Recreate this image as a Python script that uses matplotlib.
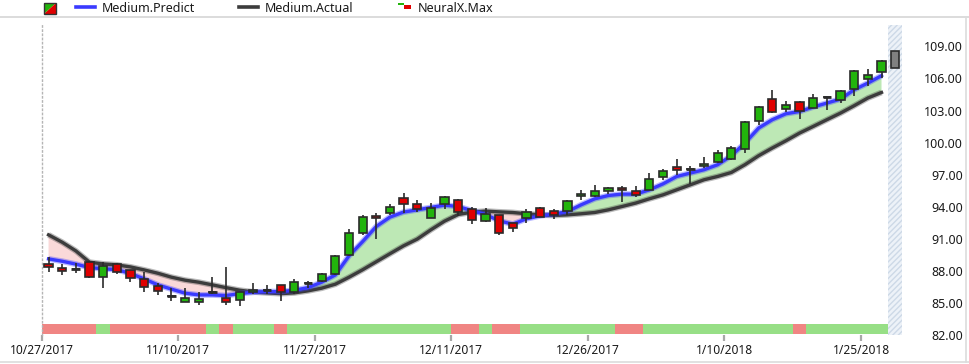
import numpy as np
import matplotlib.pyplot as plt
from matplotlib.patches import Rectangle, Polygon
from matplotlib.lines import Line2D

plt.rcParams['font.family'] = ['Noto Sans', 'DejaVu Sans']

# Candles (one per trading day, 10/27/2017 .. 1/26/2018)
opens = [88.63, 88.28, 88.18, 88.84, 87.41, 88.63, 88.06, 87.22, 86.62, 85.68,
         85.07, 85.07, 86.06, 85.44, 85.25, 86.00, 86.25, 86.66, 86.00, 86.88,
         87.03, 87.69, 89.49, 91.53, 93.12, 93.40, 94.80, 94.24, 92.93, 94.24,
         94.62, 93.80, 92.62, 93.24, 92.46, 92.93, 93.87, 93.59, 93.59, 94.96,
         94.99, 95.46, 95.74, 95.46, 95.55, 96.77, 97.71, 97.55, 97.80, 98.18,
         98.46, 99.39, 102.01, 104.07, 103.14, 103.79, 103.23, 104.22, 103.98, 105.01,
         105.95, 106.60]
highs = [89.28, 88.63, 88.75, 88.88, 88.84, 88.75, 88.10, 87.90, 86.85, 86.38,
         86.38, 86.00, 87.44, 88.37, 86.00, 86.87, 86.69, 86.70, 87.22, 87.06,
         87.78, 89.50, 91.90, 93.24, 93.40, 94.27, 95.27, 94.65, 94.34, 95.02,
         94.74, 93.96, 93.87, 93.26, 92.48, 93.78, 93.99, 93.78, 94.62, 95.56,
         96.02, 95.84, 95.93, 95.93, 97.15, 97.52, 98.46, 97.80, 98.64, 99.30,
         99.67, 102.00, 103.45, 104.92, 103.89, 103.92, 104.54, 104.22, 104.92, 106.79,
         106.88, 107.73]
lows = [87.93, 87.62, 87.80, 87.37, 86.43, 87.75, 87.00, 86.06, 85.75, 85.22,
        85.07, 84.84, 85.82, 84.84, 84.75, 85.82, 85.82, 85.22, 85.84, 86.40,
        86.94, 87.60, 89.40, 91.36, 90.97, 93.27, 93.40, 93.50, 92.90, 93.78,
        93.15, 92.37, 92.60, 91.36, 91.62, 92.46, 93.03, 92.84, 93.21, 94.62,
        94.90, 95.18, 94.43, 94.90, 95.55, 96.49, 96.96, 96.12, 97.62, 98.08,
        98.36, 99.02, 101.64, 102.76, 102.86, 102.20, 103.23, 103.05, 103.70, 104.36,
        105.29, 106.04]
closes = [88.34, 88.03, 88.18, 87.47, 88.50, 87.88, 87.31, 86.47, 86.10, 85.68,
          85.44, 85.35, 86.06, 85.07, 86.00, 86.19, 86.25, 86.00, 86.94, 86.88,
          87.69, 89.40, 91.53, 93.03, 92.93, 93.96, 94.24, 93.78, 93.87, 94.90,
          93.50, 92.77, 93.34, 91.53, 91.99, 93.50, 93.03, 93.21, 94.52, 95.18,
          95.46, 95.74, 95.55, 95.09, 96.58, 97.33, 97.43, 97.55, 97.99, 99.02,
          99.49, 101.92, 103.33, 102.86, 103.51, 102.95, 104.17, 104.22, 104.82, 106.70,
          106.32, 107.63]

# Forecast box for the next day
forecast_low = 106.98
forecast_high = 108.57

predict = [89.12, 88.90, 88.63, 88.31, 88.19, 88.12, 87.75, 87.25, 86.69, 86.29,
           85.91, 85.75, 85.75, 85.69, 85.87, 86.00, 86.06, 86.06, 86.19, 86.43,
           86.94, 87.62, 89.40, 90.74, 92.15, 93.03, 93.50, 93.71, 93.93, 94.15,
           94.02, 93.64, 93.27, 92.68, 92.37, 92.87, 93.15, 93.31, 93.55, 94.18,
           94.74, 95.05, 95.18, 95.18, 95.58, 96.14, 96.83, 97.15, 97.46, 97.93,
           98.77, 99.96, 101.36, 102.14, 102.70, 102.91, 103.33, 103.70, 104.07, 104.95,
           105.57, 106.26]
actual = [91.37, 90.68, 89.87, 88.81, 88.65, 88.56, 88.37, 88.09, 87.78, 87.41,
          87.13, 86.94, 86.69, 86.43, 86.19, 86.03, 85.94, 85.87, 85.94, 86.13,
          86.38, 86.75, 87.40, 88.10, 88.85, 89.60, 90.34, 90.97, 91.84, 92.65,
          93.27, 93.49, 93.59, 93.52, 93.46, 93.34, 93.24, 93.18, 93.24, 93.34,
          93.46, 93.71, 94.02, 94.34, 94.74, 95.11, 95.58, 96.05, 96.52, 96.83,
          97.20, 97.93, 98.77, 99.49, 100.17, 100.89, 101.51, 102.14, 102.76, 103.45,
          104.17, 104.69]

# NeuralX.Max strip: 1 = green, 0 = red
neural = [0, 0, 0, 0, 1, 0, 0, 0, 0, 0,
          0, 0, 1, 0, 1, 1, 1, 0, 1, 1,
          1, 1, 1, 1, 1, 1, 1, 1, 1, 1,
          0, 0, 1, 0, 0, 1, 1, 1, 1, 1,
          1, 1, 0, 0, 1, 1, 1, 1, 1, 1,
          1, 1, 1, 1, 1, 0, 1, 1, 1, 1,
          1, 1]

tick_idx = [0, 10, 20, 30, 40, 50, 60]
tick_labels = ['10/27/2017', '11/10/2017', '11/27/2017', '12/11/2017',
               '12/26/2017', '1/10/2018', '1/25/2018']
y_ticks = [82, 85, 88, 91, 94, 97, 100, 103, 106, 109]

W, H = 970, 364
fig = plt.figure(figsize=(W / 100, H / 100), dpi=100)
ax = fig.add_axes([41.7 / W, (H - 335) / H, (902 - 41.7) / W, (335 - 25) / H])

x = np.arange(len(closes))
o = np.array(opens)
c = np.array(closes)
p = np.array(predict)
a = np.array(actual)
n = len(closes)

# area between predict and actual
ax.fill_between(x, p, a, where=p >= a, interpolate=True, color='#bde8b5', lw=0, zorder=1)
ax.fill_between(x, p, a, where=p < a, interpolate=True, color='#fad9d9', lw=0, zorder=1)

# lines with a soft halo
ax.plot(x, a, color='#3c3c3c', lw=4.2, alpha=0.35, zorder=2, solid_capstyle='butt')
ax.plot(x, a, color='#3c3c3c', lw=2.4, zorder=2)
ax.plot(x, p, color='#3a3aff', lw=4.2, alpha=0.35, zorder=2, solid_capstyle='butt')
ax.plot(x, p, color='#3a3aff', lw=2.4, zorder=2)

# candles
edge = '#2b2b2b'
ax.vlines(x, lows, highs, color=edge, lw=1.2, zorder=3)
body_col = np.where(c > o, '#22b40c', np.where(c < o, '#e00000', edge))
ax.bar(x, np.abs(c - o), bottom=np.minimum(o, c), width=0.6,
       color=body_col, edgecolor=edge, lw=1.2, zorder=4)
doji = c == o
ax.hlines(c[doji], x[doji] - 0.32, x[doji] + 0.32, color=edge, lw=2.0, zorder=4)

# forecast zone
ax.axvspan(n - 0.5, n + 0.5, facecolor='#edf2f8', edgecolor='#cdd9e7',
           hatch='//////', lw=0, zorder=0)
ax.bar([n], [forecast_high - forecast_low], bottom=forecast_low, width=0.6,
       color='#808080', edgecolor=edge, lw=1.2, zorder=4)

# NeuralX strip along the bottom
strip_col = ['#97df86' if s else '#f08583' for s in neural]
ax.bar(x, 0.91, bottom=82.12, width=1.0, color=strip_col, lw=0, zorder=2)

ax.set_xlim(-0.5, n + 0.5)
ax.set_ylim(82, 111.0)

ax.set_xticks([i - 0.5 for i in tick_idx])
ax.set_xticklabels(tick_labels)
ax.tick_params(axis='x', length=4, width=1.6, color='#a8a8a8', labelsize=8.6,
               labelcolor='#1a1a1a', pad=2.5)

ax.yaxis.tick_right()
ax.set_yticks(y_ticks)
ax.set_yticklabels([f'{v:.2f}' for v in y_ticks])
ax.tick_params(axis='y', length=0, labelsize=9, labelcolor='#1a1a1a', pad=44)
for lab in ax.get_yticklabels():
    lab.set_horizontalalignment('right')

for s in ['top', 'right', 'bottom']:
    ax.spines[s].set_visible(False)
ax.spines['left'].set_color('#b5b5b5')
ax.spines['left'].set_linestyle((0, (1, 2)))
ax.spines['left'].set_linewidth(1)


# legend row drawn in pixel positions
def fx(px):
    return px / W


def fy(py):
    return 1 - py / H


fig.add_artist(Line2D([0, 1], [fy(17), fy(17)], color='#d6d6d6', lw=1.2))
fig.add_artist(Line2D([fx(966.5), fx(966.5)], [fy(17), fy(362)], color='#dcdcdc', lw=1.2))
fig.add_artist(Line2D([0, 1], [fy(362), fy(362)], color='#dcdcdc', lw=1.2))

fig.add_artist(Polygon([(fx(44), fy(3)), (fx(56), fy(3)), (fx(44), fy(14))],
                       closed=True, facecolor='#22b40c', lw=0))
fig.add_artist(Polygon([(fx(56), fy(3)), (fx(56), fy(14)), (fx(44), fy(14))],
                       closed=True, facecolor='#e00000', lw=0))
fig.add_artist(Rectangle((fx(44), fy(14)), fx(12), 11 / H, facecolor='none',
                         edgecolor='#333333', lw=1.0))

fig.add_artist(Line2D([fx(76), fx(95)], [fy(6.5), fy(6.5)], color='#3a3aff', lw=2.6))
fig.text(fx(102), fy(8.5), 'Medium.Predict', fontsize=9, color='#1a1a1a', va='center')
fig.add_artist(Line2D([fx(239), fx(258)], [fy(6.5), fy(6.5)], color='#3c3c3c', lw=2.6))
fig.text(fx(265), fy(8.5), 'Medium.Actual', fontsize=9, color='#1a1a1a', va='center')
fig.add_artist(Rectangle((fx(398), fy(5)), fx(6), 2.5 / H, facecolor='#22b40c', lw=0))
fig.add_artist(Rectangle((fx(404), fy(9)), fx(7), 4 / H, facecolor='#e00000', lw=0))
fig.text(fx(418), fy(8.5), 'NeuralX.Max', fontsize=9, color='#1a1a1a', va='center')

fig.savefig('out.png', dpi=100)
